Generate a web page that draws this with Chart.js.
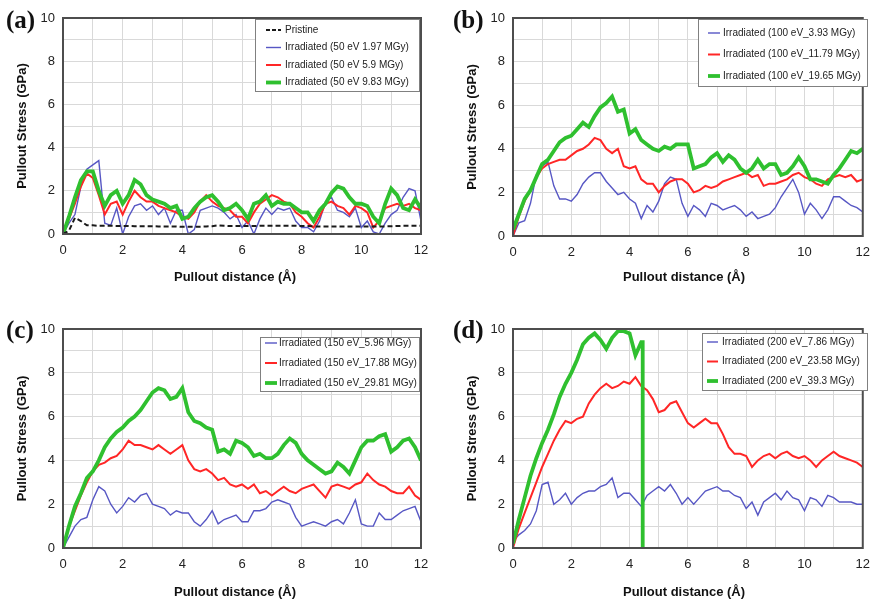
<!DOCTYPE html>
<html>
<head>
<meta charset="utf-8">
<script src="https://cdn.jsdelivr.net/npm/chart.js@4.4.1/dist/chart.umd.min.js"></script>
<style>
  html, body { margin: 0; padding: 0; background: #fff; }
  body { width: 879px; height: 602px; position: relative; overflow: hidden; }
  canvas { position: absolute; }
</style>
</head>
<body>
<canvas id="chartA" width="440" height="300" style="left:0;top:0"></canvas>
<canvas id="chartB" width="439" height="300" style="left:440px;top:0"></canvas>
<canvas id="chartC" width="440" height="302" style="left:0;top:300px"></canvas>
<canvas id="chartD" width="439" height="302" style="left:440px;top:300px"></canvas>
<script>
// pullout distance (Å), shared by every series except the broken 200 eV / 39.3 MGy run
const distance = [
  0, 0.2, 0.4, 0.6, 0.8, 1, 1.2, 1.4, 1.6, 1.8,
  2, 2.2, 2.4, 2.6, 2.8, 3, 3.2, 3.4, 3.6, 3.8,
  4, 4.2, 4.4, 4.6, 4.8, 5, 5.2, 5.4, 5.6, 5.8,
  6, 6.2, 6.4, 6.6, 6.8, 7, 7.2, 7.4, 7.6, 7.8,
  8, 8.2, 8.4, 8.6, 8.8, 9, 9.2, 9.4, 9.6, 9.8,
  10, 10.2, 10.4, 10.6, 10.8, 11, 11.2, 11.4, 11.6, 11.8,
  12
];

// (a) 50 eV
const pristine = [
  0, 0.15, 0.75, 0.6, 0.4, 0.4, 0.38, 0.38, 0.38, 0.37,
  0.37, 0.37, 0.36, 0.36, 0.36, 0.36, 0.35, 0.35, 0.35, 0.35,
  0.33, 0.33, 0.33, 0.34, 0.35, 0.36, 0.4, 0.38, 0.37, 0.37,
  0.37, 0.37, 0.37, 0.38, 0.38, 0.38, 0.38, 0.38, 0.38, 0.38,
  0.37, 0.37, 0.35, 0.35, 0.35, 0.35, 0.35, 0.35, 0.35, 0.35,
  0.35, 0.35, 0.35, 0.35, 0.35, 0.36, 0.37, 0.38, 0.38, 0.38,
  0.38
];
const ev50Low = [
  0, 0.5, 0.9, 2.2, 3.0, 3.2, 3.4, 0.5, 0.4, 1.2,
  0.0, 0.8, 1.3, 1.4, 1.1, 1.3, 0.9, 1.2, 0.5, 1.1,
  1.1, 0.0, 0.2, 1.1, 1.2, 1.3, 1.2, 1.0, 0.7, 0.9,
  0.3, 0.6, 0.0, 0.7, 1.2, 0.9, 1.2, 1.1, 1.2, 0.6,
  0.3, 0.3, 0.1, 0.6, 1.5, 1.7, 1.1, 1.0, 0.8, 1.2,
  0.3, 0.6, 0.1, 0.0, 0.5, 0.9, 1.1, 1.7, 2.1, 2.0,
  0.6
];
const ev50Mid = [
  0, 0.7, 1.4, 2.2, 2.8, 2.6, 1.8, 0.9, 1.4, 1.5,
  0.9, 1.5, 2.0, 1.7, 1.5, 1.5, 1.3, 1.2, 1.1, 1.0,
  0.8, 0.7, 1.0, 1.5, 1.8, 1.5, 1.3, 1.2, 1.1, 0.8,
  0.8, 0.5, 1.0, 1.4, 1.6, 1.8, 1.7, 1.5, 1.4, 1.0,
  0.8, 0.5, 0.3, 0.8, 1.4, 1.5, 1.3, 1.2, 0.9, 1.3,
  1.2, 1.0, 0.3, 0.6, 1.2, 1.3, 1.4, 1.3, 1.4, 1.2,
  1.1
];
const ev50High = [
  0, 0.8, 1.7, 2.5, 2.9, 2.9, 2.0, 1.3, 1.8, 2.0,
  1.4, 1.8, 2.5, 2.3, 1.8, 1.6, 1.5, 1.4, 1.2, 1.3,
  0.7, 0.8, 1.2, 1.5, 1.7, 1.8, 1.5, 1.1, 1.2, 1.4,
  1.1, 0.7, 1.4, 1.5, 1.8, 1.3, 1.5, 1.4, 1.4, 1.2,
  1.0, 1.0, 0.6, 1.1, 1.4, 1.9, 2.2, 2.1, 1.7, 1.4,
  1.4, 1.3, 0.8, 0.5, 1.4, 2.1, 1.8, 1.2, 1.1, 1.6,
  1.2
];

// (b) 100 eV
const ev100Low = [
  0, 0.6, 0.7, 1.5, 2.8, 3.2, 3.4, 2.3, 1.7, 1.7,
  1.6, 1.9, 2.4, 2.7, 2.9, 2.9, 2.5, 2.2, 1.9, 2.0,
  1.7, 1.5, 0.8, 1.4, 1.1, 1.6, 2.4, 2.7, 2.6, 1.5,
  0.9, 1.4, 1.2, 0.9, 1.5, 1.4, 1.2, 1.3, 1.4, 1.2,
  0.9, 1.1, 0.8, 0.9, 1.0, 1.3, 1.8, 2.2, 2.6, 2.0,
  1.0, 1.5, 1.2, 0.8, 1.2, 1.8, 1.8, 1.6, 1.4, 1.3,
  1.1
];
const ev100Mid = [
  0, 0.9, 1.6, 2.1, 2.7, 3.1, 3.3, 3.4, 3.5, 3.5,
  3.7, 3.9, 4.0, 4.2, 4.5, 4.4, 4.0, 3.8, 4.0, 3.2,
  3.1, 3.2, 2.6, 2.4, 2.4, 2.0, 2.3, 2.5, 2.6, 2.6,
  2.4, 2.0, 2.1, 2.3, 2.2, 2.3, 2.5, 2.6, 2.7, 2.8,
  2.9, 2.7, 2.8, 2.3, 2.4, 2.4, 2.5, 2.6, 2.8, 2.9,
  2.7, 2.6, 2.4, 2.3, 2.6, 2.7, 2.8, 2.7, 2.8, 2.5,
  2.6
];
const ev100High = [
  0.3, 1.0, 1.7, 2.1, 2.7, 3.3, 3.5, 3.9, 4.3, 4.5,
  4.6, 4.9, 5.2, 5.0, 5.5, 5.9, 6.1, 6.4, 5.7, 5.8,
  4.7, 4.9, 4.4, 4.2, 4.0, 3.9, 4.1, 4.0, 4.2, 4.2,
  4.2, 3.1, 3.2, 3.3, 3.6, 3.8, 3.4, 3.7, 3.5, 3.1,
  2.9, 3.1, 3.5, 3.1, 3.3, 3.3, 2.8, 2.9, 3.2, 3.6,
  3.2, 2.6, 2.6, 2.5, 2.4, 2.8, 3.1, 3.5, 3.9, 3.8,
  4.0
];

// (c) 150 eV
const ev150Low = [
  0, 0.5, 1.0, 1.3, 1.4, 2.2, 2.8, 2.6, 2.0, 1.6,
  1.9, 2.3, 2.1, 2.4, 2.5, 2.0, 1.9, 1.8, 1.5, 1.7,
  1.6, 1.6, 1.2, 1.0, 1.3, 1.7, 1.1, 1.3, 1.4, 1.5,
  1.2, 1.2, 1.7, 1.7, 1.8, 2.1, 2.2, 2.1, 2.0, 1.4,
  1.0, 1.1, 1.2, 1.1, 1.0, 1.2, 1.3, 1.1, 1.6, 2.2,
  1.1, 1.0, 1.0, 1.6, 1.3, 1.3, 1.5, 1.7, 1.8, 1.9,
  1.2
];
const ev150Mid = [
  0, 1.0, 1.7, 2.4, 3.0, 3.5, 3.8, 3.9, 4.1, 4.2,
  4.5, 4.9, 4.7, 4.7, 4.6, 4.5, 4.7, 4.5, 4.3, 4.5,
  4.7, 4.0, 3.6, 3.5, 3.6, 3.4, 3.1, 3.2, 2.9, 2.8,
  2.9, 2.7, 2.9, 2.5, 2.6, 2.4, 2.6, 2.8, 2.6, 2.5,
  2.7, 2.8, 2.9, 2.6, 2.3, 2.8, 2.9, 2.8, 2.7, 2.9,
  3.0, 3.4, 3.1, 2.9, 2.8, 2.6, 2.5, 2.5, 2.8, 2.4,
  2.2
];
const ev150High = [
  0, 1.0, 1.9, 2.5, 3.2, 3.5, 4.0, 4.6, 5.0, 5.3,
  5.5, 5.8, 6.0, 6.3, 6.7, 7.1, 7.3, 7.2, 6.8, 6.9,
  7.3, 6.2, 5.8, 5.7, 5.5, 5.4, 4.4, 4.5, 4.3, 4.9,
  4.8, 4.6, 4.2, 4.3, 4.1, 4.1, 4.3, 4.7, 5.0, 4.8,
  4.3, 4.0, 3.8, 3.6, 3.4, 3.5, 3.9, 3.7, 3.4, 4.0,
  4.6, 4.9, 4.9, 5.1, 5.2, 4.4, 4.6, 4.9, 5.0, 4.6,
  4.0
];

// (d) 200 eV
const ev200Low = [
  0.3, 0.6, 0.8, 1.1, 1.7, 2.9, 3.0, 2.0, 2.2, 2.5,
  2.0, 2.3, 2.5, 2.6, 2.6, 2.8, 2.9, 3.2, 2.3, 2.5,
  2.5, 2.2, 1.9, 2.4, 2.6, 2.8, 2.6, 2.9, 2.5, 2.0,
  2.3, 2.0, 2.3, 2.6, 2.7, 2.8, 2.6, 2.6, 2.4, 2.3,
  1.8, 2.1, 1.5, 2.1, 2.3, 2.5, 2.2, 2.6, 2.3, 2.2,
  1.7, 2.3, 2.2, 1.9, 2.4, 2.3, 2.1, 2.1, 2.1, 2.0,
  2.0
];
const ev200Mid = [
  0, 0.9, 1.6, 2.3, 3.0, 3.7, 4.3, 4.9, 5.4, 5.8,
  5.7, 5.9, 6.0, 6.6, 7.0, 7.3, 7.5, 7.3, 7.4, 7.6,
  7.5, 7.8, 7.4, 7.2, 6.8, 6.2, 6.3, 6.6, 6.7, 6.2,
  5.7, 5.5, 5.7, 5.9, 5.7, 5.7, 5.2, 4.6, 4.3, 4.3,
  4.2, 3.7, 4.0, 4.2, 4.3, 4.1, 4.3, 4.4, 4.2, 4.1,
  4.2, 4.0, 3.7, 4.0, 4.2, 4.4, 4.2, 4.1, 4.0, 3.9,
  3.7
];
const ev200HighDistance = [
  0, 0.2, 0.4, 0.6, 0.8, 1, 1.2, 1.4, 1.6, 1.8,
  2, 2.2, 2.4, 2.6, 2.8, 3, 3.2, 3.4, 3.6, 3.8,
  4, 4.2, 4.4, 4.45, 4.45
];
const ev200High = [
  0.2, 1.3, 2.3, 3.3, 4.1, 4.8, 5.4, 6.1, 6.9, 7.5,
  8.0, 8.6, 9.3, 9.6, 9.8, 9.5, 9.1, 9.6, 9.9, 9.9,
  9.8, 8.8, 9.4, 9.4, 0
];

const xTicks = { min: 0, max: 12 };
const yTicks = { min: 0, max: 10 };

const FONT = '"Liberation Sans", Arial, sans-serif';
const BLUE = { color: '#5757c4', width: 1.4 };
const RED = { color: '#ff2626', width: 2 };
const GREEN = { color: '#2fc02f', width: 3.8 };
const BLACK_DASH = { color: '#1a1a1a', width: 2, dash: [5, 3] };
const X_AXIS_H = 56;

function series(label, xs, ys, style, order) {
  return {
    label: label,
    data: xs.map((x, i) => ({ x: x, y: ys[i] })),
    borderColor: style.color,
    borderWidth: style.width,
    borderDash: style.dash || [],
    pointRadius: 0,
    tension: 0,
    fill: false,
    order: order,
    _style: style
  };
}

// frame, in-plot legend, x title and panel letter
const panelDecor = {
  id: 'panelDecor',
  afterDraw(chart, args, opts) {
    const ctx = chart.ctx;
    const a = chart.chartArea;
    ctx.save();
    ctx.strokeStyle = '#4d4d4d';
    ctx.lineWidth = 2;
    ctx.strokeRect(a.left, a.top, a.right - a.left, a.bottom - a.top);

    const lg = opts.legend;
    ctx.fillStyle = '#fff';
    ctx.fillRect(lg.x, lg.y, lg.w, lg.h);
    ctx.strokeStyle = '#808080';
    ctx.lineWidth = 1;
    ctx.strokeRect(lg.x + 0.5, lg.y + 0.5, lg.w, lg.h);
    ctx.font = '10px ' + FONT;
    ctx.textBaseline = 'middle';
    chart.data.datasets.forEach((ds, i) => {
      const y = lg.rowY + i * lg.rowGap;
      const st = ds._style;
      ctx.beginPath();
      ctx.strokeStyle = st.color;
      ctx.lineWidth = st.width;
      ctx.setLineDash(st.dash ? [4, 2] : []);
      ctx.moveTo(lg.sampleX, y);
      ctx.lineTo(lg.sampleX + lg.sampleW, y);
      ctx.stroke();
      ctx.setLineDash([]);
      ctx.fillStyle = '#222';
      ctx.fillText(ds.label, lg.textX, y);
    });

    ctx.font = 'bold 13px ' + FONT;
    ctx.fillStyle = '#111';
    ctx.textAlign = 'center';
    ctx.fillText('Pullout distance (Å)', opts.xTitleX, opts.xTitleY);

    ctx.font = 'bold 25px "Liberation Serif", "Times New Roman", serif';
    ctx.textAlign = 'left';
    ctx.textBaseline = 'alphabetic';
    ctx.fillText(opts.letter, opts.letterX, opts.letterY);
    ctx.restore();
  }
};

function makePanel(cfg) {
  const canvas = document.getElementById(cfg.id);
  const w = canvas.width, h = canvas.height;
  const area = cfg.area;
  new Chart(canvas.getContext('2d'), {
    type: 'line',
    data: { datasets: cfg.datasets },
    plugins: [panelDecor],
    options: {
      responsive: false,
      animation: false,
      layout: {
        padding: { left: 0, top: area.top, right: w - area.right, bottom: h - area.bottom - X_AXIS_H }
      },
      plugins: {
        legend: { display: false },
        tooltip: { enabled: false },
        panelDecor: {
          legend: cfg.legend,
          letter: cfg.letter, letterX: cfg.letterX, letterY: cfg.letterY,
          xTitleX: cfg.xTitleX, xTitleY: cfg.xTitleY
        }
      },
      scales: {
        x: {
          type: 'linear',
          min: xTicks.min,
          max: xTicks.max,
          afterFit: s => { s.height = X_AXIS_H; },
          grid: { color: '#d9d9d9', lineWidth: 1, drawTicks: false },
          border: { display: false },
          ticks: {
            stepSize: 1,
            autoSkip: false,
            maxRotation: 0,
            padding: 9,
            color: '#222',
            font: { family: FONT, size: 13 },
            callback: v => (v % 2 === 0 ? v : '')
          }
        },
        y: {
          min: yTicks.min,
          max: yTicks.max,
          afterFit: s => { s.width = area.left; },
          grid: { color: '#d9d9d9', lineWidth: 1, drawTicks: false },
          border: { display: false },
          ticks: {
            stepSize: 1,
            autoSkip: false,
            padding: 8,
            color: '#222',
            font: { family: FONT, size: 13 },
            callback: v => (v % 2 === 0 ? v : '')
          },
          title: {
            display: true,
            text: 'Pullout Stress (GPa)',
            color: '#111',
            font: { family: FONT, size: 13, weight: 'bold' },
            padding: { top: cfg.yTitleX - 7.8, bottom: 0 }
          }
        }
      }
    }
  });
}

document.addEventListener('DOMContentLoaded', function() {
  makePanel({
    id: 'chartA',
    area: { left: 63, top: 18, right: 421, bottom: 234 },
    yTitleX: 22, xTitleX: 235, xTitleY: 277,
    letter: '(a)', letterX: 6, letterY: 28,
    legend: { x: 255, y: 19, w: 164, h: 72, rowY: 30, rowGap: 17.5, sampleX: 266, sampleW: 15, textX: 285 },
    datasets: [
      series('Pristine', distance, pristine, BLACK_DASH, 0),
      series('Irradiated (50 eV 1.97 MGy)', distance, ev50Low, BLUE, 3),
      series('Irradiated (50 eV 5.9 MGy)', distance, ev50Mid, RED, 2),
      series('Irradiated (50 eV 9.83 MGy)', distance, ev50High, GREEN, 1)
    ]
  });

  makePanel({
    id: 'chartB',
    area: { left: 73, top: 18, right: 431, bottom: 236 },
    yTitleX: 32, xTitleX: 244, xTitleY: 277,
    letter: '(b)', letterX: 13, letterY: 28,
    legend: { x: 258, y: 19, w: 169, h: 67, rowY: 33, rowGap: 21.5, sampleX: 268, sampleW: 12, textX: 283 },
    datasets: [
      series('Irradiated (100 eV_3.93 MGy)', distance, ev100Low, BLUE, 3),
      series('Irradiated (100 eV_11.79 MGy)', distance, ev100Mid, RED, 2),
      series('Irradiated (100 eV_19.65 MGy)', distance, ev100High, GREEN, 1)
    ]
  });

  makePanel({
    id: 'chartC',
    area: { left: 63, top: 29, right: 421, bottom: 248 },
    yTitleX: 22, xTitleX: 235, xTitleY: 292,
    letter: '(c)', letterX: 6, letterY: 38,
    legend: { x: 260, y: 37, w: 159, h: 54, rowY: 43, rowGap: 20, sampleX: 265, sampleW: 12, textX: 279 },
    datasets: [
      series('Irradiated (150 eV_5.96 MGy)', distance, ev150Low, BLUE, 3),
      series('Irradiated (150 eV_17.88 MGy)', distance, ev150Mid, RED, 2),
      series('Irradiated (150 eV_29.81 MGy)', distance, ev150High, GREEN, 1)
    ]
  });

  makePanel({
    id: 'chartD',
    area: { left: 73, top: 29, right: 431, bottom: 248 },
    yTitleX: 32, xTitleX: 244, xTitleY: 292,
    letter: '(d)', letterX: 13, letterY: 38,
    legend: { x: 262, y: 33, w: 165, h: 57, rowY: 42, rowGap: 19.5, sampleX: 267, sampleW: 11, textX: 282 },
    datasets: [
      series('Irradiated (200 eV_7.86 MGy)', distance, ev200Low, BLUE, 3),
      series('Irradiated (200 eV_23.58 MGy)', distance, ev200Mid, RED, 2),
      series('Irradiated (200 eV_39.3 MGy)', ev200HighDistance, ev200High, GREEN, 1)
    ]
  });
});
</script>
</body>
</html>
